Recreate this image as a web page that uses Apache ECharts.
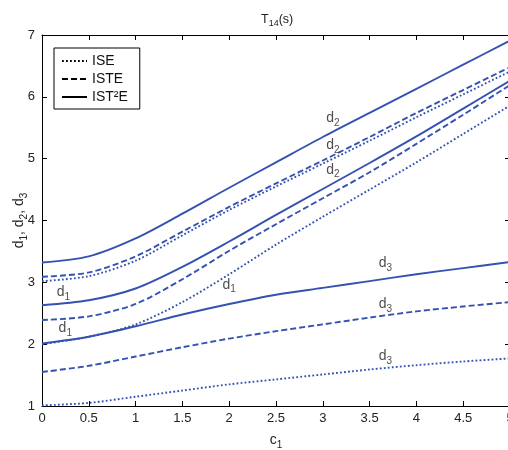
<!DOCTYPE html>
<html>
<head>
<meta charset="utf-8">
<script src="https://cdn.jsdelivr.net/npm/echarts@6/dist/echarts.min.js"></script>
<style>
html,body{margin:0;padding:0;background:#fff;}
#c{width:508px;height:450px;}
</style>
</head>
<body>
<div id="c"></div>
<script>
// ---- data ----
const xs = [0, 0.5, 1, 1.5, 2, 2.5, 3, 3.5, 4, 4.5, 5];
const xTicks = [0, 0.5, 1, 1.5, 2, 2.5, 3, 3.5, 4, 4.5, 5];
const yTicks = [1, 2, 3, 4, 5, 6, 7];
// ISE (dotted)
const iseD1 = [2.00, 2.12, 2.32, 2.68, 3.13, 3.61, 4.06, 4.50, 4.94, 5.40, 5.86];
const iseD2 = [3.02, 3.10, 3.35, 3.76, 4.17, 4.55, 4.92, 5.29, 5.67, 6.04, 6.41];
const iseD3 = [1.01, 1.05, 1.15, 1.25, 1.35, 1.43, 1.51, 1.59, 1.66, 1.72, 1.77];
// ISTE (dashed)
const isteD1 = [2.39, 2.45, 2.65, 3.05, 3.51, 3.94, 4.36, 4.78, 5.24, 5.71, 6.19];
const isteD2 = [3.09, 3.16, 3.42, 3.82, 4.22, 4.60, 4.97, 5.35, 5.74, 6.11, 6.48];
const isteD3 = [1.55, 1.65, 1.80, 1.95, 2.09, 2.21, 2.32, 2.43, 2.53, 2.61, 2.68];
// IST2E (solid)
const ist2eD1 = [2.63, 2.71, 2.90, 3.25, 3.66, 4.09, 4.51, 4.93, 5.36, 5.81, 6.26];
const ist2eD2 = [3.32, 3.42, 3.71, 4.11, 4.53, 4.94, 5.35, 5.74, 6.13, 6.52, 6.91];
const ist2eD3 = [2.01, 2.12, 2.29, 2.48, 2.65, 2.80, 2.91, 3.02, 3.13, 3.23, 3.33];
// curve annotations (position of the "d" glyph, in data units)
const annX = [3.08, 3.08, 3.08, 0.20, 0.22, 1.97, 3.64, 3.64, 3.64];
const annY = [5.71, 5.26, 4.87, 2.89, 2.31, 3.01, 3.36, 2.70, 1.85];
const annSub = ['2', '2', '2', '1', '1', '1', '3', '3', '3'];
const methods = ['ISE', 'ISTE', 'IST²E'];

// ---- chart ----
const FONT = '"Liberation Sans", Arial, Helvetica, sans-serif';
const BLUE = '#3452b1';
const pairs = ys => xs.map((x, i) => [x, ys[i]]);

function lineSeries(name, ys, type) {
  return {
    name: name, type: 'line', data: pairs(ys),
    xAxisIndex: 0, yAxisIndex: 0,
    smooth: 0.3, symbol: 'none', showSymbol: false, silent: true,
    lineStyle: { color: BLUE, width: 1.9, type: type },
    itemStyle: { color: BLUE },
    z: 3
  };
}
const DOT = [1.8, 2.2];
const DASH = [6, 3];

const chart = echarts.init(document.getElementById('c'), null, { renderer: 'canvas' });
const axisCommonX = {
  type: 'value', min: 0, max: 5, interval: 0.5,
  axisLine: { show: true, onZero: false, lineStyle: { color: '#000', width: 1 } },
  axisTick: { show: true, inside: true, length: 5, lineStyle: { color: '#000' } },
  splitLine: { show: false }
};
const axisCommonY = {
  type: 'value', min: 1, max: 7, interval: 1,
  axisLine: { show: true, onZero: false, lineStyle: { color: '#000', width: 1 } },
  axisTick: { show: true, inside: true, length: 5, lineStyle: { color: '#000' } },
  splitLine: { show: false }
};
const sub = { fontFamily: FONT, fontSize: 10, color: '#222', padding: [10, 0, 0, 0] };
const main = { fontFamily: FONT, fontSize: 14, color: '#222' };

const option = {
  animation: false,
  backgroundColor: '#fff',
  title: {
    text: '{a|T}{s|14}{a|(s)}',
    left: 256, top: 6,
    textStyle: {
      fontWeight: 'normal',
      rich: {
        a: { fontFamily: FONT, fontSize: 12.5, color: '#222', fontWeight: 'normal' },
        s: { fontFamily: FONT, fontSize: 9, color: '#222', fontWeight: 'normal', padding: [8, 0, 0, 0] }
      }
    }
  },
  grid: { left: 42, top: 35, width: 468, height: 371, containLabel: false, outerBoundsMode: 'none' },
  legend: {
    orient: 'vertical', left: 54, top: 48,
    padding: [6, 12, 5, 7],
    itemWidth: 25, itemHeight: 14, itemGap: 4,
    borderColor: '#000', borderWidth: 1, borderRadius: 0,
    backgroundColor: '#fff',
    data: methods,
    selectedMode: false,
    textStyle: { fontFamily: FONT, fontSize: 14, color: '#111' },
    lineStyle: { color: '#000', width: 2 },
    itemStyle: { color: '#000', opacity: 0 }
  },
  xAxis: [
    Object.assign({}, axisCommonX, {
      position: 'bottom',
      name: '{a|c}{s|1}', nameLocation: 'middle', nameGap: 24, nameMoveOverlap: false,
      nameTextStyle: { rich: { a: main, s: sub } },
      axisLabel: { show: true, margin: 6, fontFamily: FONT, fontSize: 13, color: '#222', showMaxLabel: true,
        customValues: xTicks }
    }),
    Object.assign({}, axisCommonX, { position: 'top', axisLabel: { show: false } })
  ],
  yAxis: [
    Object.assign({}, axisCommonY, {
      position: 'left',
      name: '{a|d}{s|1}{a|, d}{s|2}{a|, d}{s|3}', nameLocation: 'middle', nameGap: 13, nameRotate: 90,
      nameMoveOverlap: false,
      nameTextStyle: { rich: { a: main, s: sub } },
      axisLabel: { show: true, margin: 7, fontFamily: FONT, fontSize: 13, color: '#222',
        customValues: yTicks }
    }),
    Object.assign({}, axisCommonY, { position: 'right', axisLabel: { show: false } })
  ],
  series: [
    lineSeries('ISE', iseD1, DOT),
    lineSeries('ISE', iseD2, DOT),
    lineSeries('ISE', iseD3, DOT),
    lineSeries('ISTE', isteD1, DASH),
    lineSeries('ISTE', isteD2, DASH),
    lineSeries('ISTE', isteD3, DASH),
    lineSeries('IST²E', ist2eD1, 'solid'),
    lineSeries('IST²E', ist2eD2, 'solid'),
    lineSeries('IST²E', ist2eD3, 'solid'),
    {
      name: 'annotations', type: 'scatter', silent: true,
      symbolSize: 0,
      data: annX.map((x, i) => [x, annY[i], annSub[i]]),
      label: {
        show: true, position: 'inside', align: 'left', offset: [-4, 3],
        formatter: p => '{d|d}{s|' + p.data[2] + '}',
        rich: { d: main, s: sub }
      },
      z: 5
    }
  ]
};
chart.setOption(option);
</script>
</body>
</html>
